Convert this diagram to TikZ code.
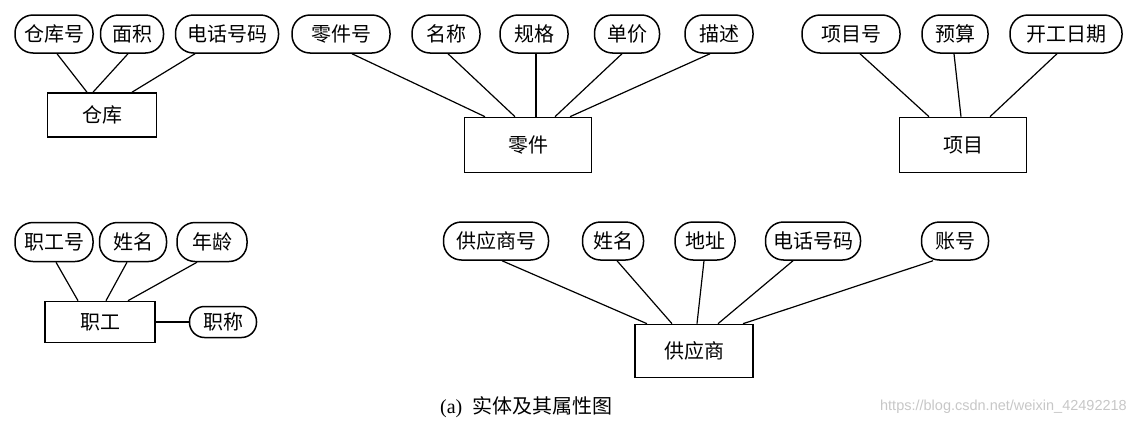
\documentclass[tikz,border=0pt]{standalone}
\usepackage{fontspec}
\newfontfamily\cjk{Noto Sans CJK SC}
\newfontfamily\capserif{Liberation Serif}
\newfontfamily\wmfont{Liberation Sans}
\begin{document}
\begin{tikzpicture}[x=1pt,y=-1pt,
  attr/.style={draw, line width=1.5pt, rounded corners=18pt, minimum height=38pt, inner sep=0pt, font=\cjk\fontsize{20}{24}\selectfont},
  ent/.style={draw, line width=1.6pt, inner sep=0pt, font=\cjk\fontsize{20}{24}\selectfont},
  link/.style={line width=1.2pt}]
\useasboundingbox (0,0) rectangle (1136,426);
% warehouse
\node[attr, minimum width=78pt] (a1) at (54,34) {仓库号};
\node[attr, minimum width=63pt] (a2) at (132,34) {面积};
\node[attr, minimum width=103pt] (a3) at (227,34) {电话号码};
\node[ent, minimum width=109pt, minimum height=44pt] (e1) at (102,115) {仓库};
\draw[link] ([xshift=3pt]a1.south) -- ([xshift=-15pt]e1.north);
\draw[link] ([xshift=-4pt]a2.south) -- ([xshift=-9pt]e1.north);
\draw[link] ([xshift=-32pt]a3.south) -- ([xshift=30pt]e1.north);
% part
\node[attr, minimum width=98pt] (b1) at (341,34) {零件号};
\node[attr, minimum width=68pt] (b2) at (446,34) {名称};
\node[attr, minimum width=68pt] (b3) at (534,34) {规格};
\node[attr, minimum width=65pt] (b4) at (627,34) {单价};
\node[attr, minimum width=68pt] (b5) at (719,34) {描述};
\node[ent, minimum width=127pt, minimum height=55pt] (e2) at (528,145) {零件};
\draw[link] ([xshift=11pt]b1.south) -- ([xshift=-43pt]e2.north);
\draw[link] ([xshift=2pt]b2.south) -- ([xshift=-13pt]e2.north);
\draw[link] ([xshift=2pt]b3.south) -- ([xshift=8pt]e2.north);
\draw[link] ([xshift=-5pt]b4.south) -- ([xshift=27pt]e2.north);
\draw[link] ([xshift=-9pt]b5.south) -- ([xshift=42pt]e2.north);
% project
\node[attr, minimum width=98pt] (c1) at (851,34) {项目号};
\node[attr, minimum width=66pt] (c2) at (955,34) {预算};
\node[attr, minimum width=112pt] (c3) at (1066,34) {开工日期};
\node[ent, minimum width=127pt, minimum height=55pt] (e3) at (963,145) {项目};
\draw[link] ([xshift=9pt]c1.south) -- ([xshift=-34pt]e3.north);
\draw[link] ([xshift=-1pt]c2.south) -- ([xshift=-2pt]e3.north);
\draw[link] ([xshift=-9pt]c3.south) -- ([xshift=27pt]e3.north);
% employee
\node[attr, minimum width=78pt, minimum height=39pt] (d1) at (54,242) {职工号};
\node[attr, minimum width=67pt, minimum height=39pt] (d2) at (133,242) {姓名};
\node[attr, minimum width=70pt, minimum height=39pt] (d3) at (212,242) {年龄};
\node[ent, minimum width=110pt, minimum height=41pt] (e4) at (100,322) {职工};
\node[attr, minimum width=67pt, minimum height=31pt, rounded corners=15pt] (d4) at (223,322) {职称};
\draw[link] ([xshift=2pt]d1.south) -- ([xshift=-22pt]e4.north);
\draw[link] ([xshift=-6pt]d2.south) -- ([xshift=6pt]e4.north);
\draw[link] ([xshift=-15pt]d3.south) -- ([xshift=28pt]e4.north);
\draw[link] (e4.east) -- (d4.west);
% supplier
\node[attr, minimum width=105pt] (f1) at (496,241) {供应商号};
\node[attr, minimum width=61pt] (f2) at (613,241) {姓名};
\node[attr, minimum width=60pt] (f3) at (705,241) {地址};
\node[attr, minimum width=95pt] (f4) at (813,241) {电话号码};
\node[attr, minimum width=67pt] (f5) at (955,241) {账号};
\node[ent, minimum width=118pt, minimum height=53pt] (e5) at (694,351) {供应商};
\draw[link] ([xshift=6pt]f1.south) -- ([xshift=-47pt]e5.north);
\draw[link] ([xshift=4pt]f2.south) -- ([xshift=-22pt]e5.north);
\draw[link] ([xshift=-1pt]f3.south) -- ([xshift=3pt]e5.north);
\draw[link] ([xshift=-20pt]f4.south) -- ([xshift=24pt]e5.north);
\draw[link] ([xshift=-22pt]f5.south) -- ([xshift=49pt]e5.north);
% caption
\node[anchor=west, inner sep=0pt] (cap) at (440,407) {\capserif\fontsize{20}{24}\selectfont (a)\hspace{10pt}\cjk\fontsize{20}{24}\selectfont 实体及其属性图};
\node[anchor=east, inner sep=0pt, text=black!22] (wm) at (1127,407) {\wmfont\fontsize{14.5}{17}\selectfont https://blog.csdn.net/weixin\_42492218};
\end{tikzpicture}
\end{document}
